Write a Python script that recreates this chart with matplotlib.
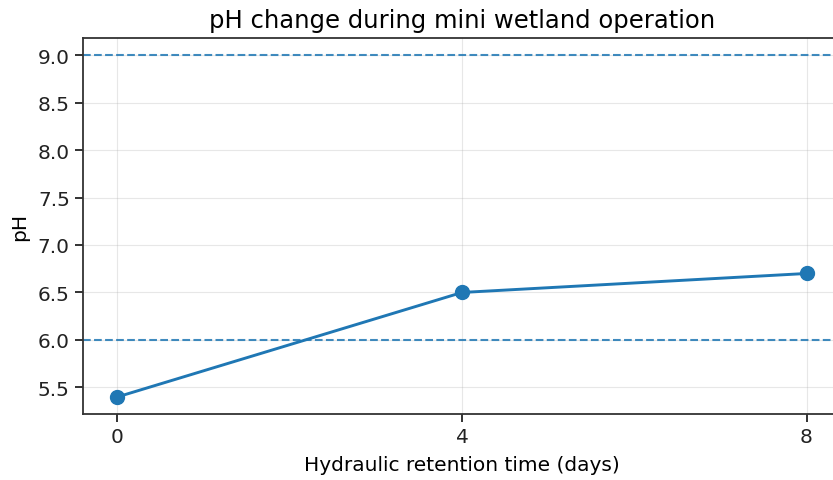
import matplotlib
matplotlib.use("Agg")
import matplotlib.pyplot as plt

HRT_DAYS = [0, 4, 8]
PH_VALUES = [5.4, 6.5, 6.7]
PH_LIMITS = [6.0, 9.0]

fig = plt.figure(figsize=(8.33, 4.81), dpi=100)
ax = fig.add_axes([83 / 833, 66 / 481, 758 / 833, 376 / 481])

ax.plot(HRT_DAYS, PH_VALUES, marker="o", color="#1f77b4", linewidth=2.1, markersize=10)
for lim in PH_LIMITS:
    ax.axhline(lim, linestyle="--", color="#1f77b4", linewidth=1.5, alpha=0.85)

ax.set_xlim(-0.4, 8.4)
ax.set_ylim(5.22, 9.18)
ax.set_xticks(HRT_DAYS)
ax.set_yticks([5.5, 6.0, 6.5, 7.0, 7.5, 8.0, 8.5, 9.0])
ax.grid(True, alpha=0.3)
ax.tick_params(labelsize=14.5, length=6, width=1.3, colors="#222222")
for s in ax.spines.values():
    s.set_linewidth(1.3)
    s.set_color("#333333")
ax.set_xlabel("Hydraulic retention time (days)", fontsize=14.5, labelpad=6)
ax.set_ylabel("pH", fontsize=14.5, labelpad=6)
ax.set_title("pH change during mini wetland operation", fontsize=17.5, pad=8)

fig.savefig("out.png", dpi=100)
plt.close()
